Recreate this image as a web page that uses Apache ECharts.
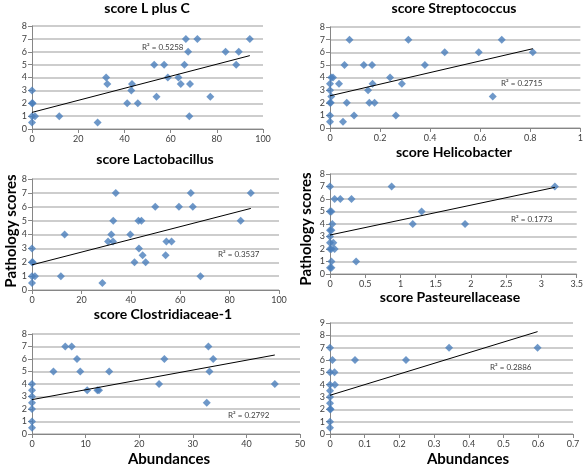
<!DOCTYPE html>
<html><head><meta charset="utf-8">
<script src="https://cdn.jsdelivr.net/npm/echarts@6/dist/echarts.min.js"></script>
<style>html,body{margin:0;padding:0;background:#fff}#c{width:586px;height:465px}</style>
</head><body><div id="c"></div>
<script>
// ---- data ----
const titles = ["score L plus C","score Streptococcus","score Lactobacillus","score Helicobacter","score Clostridiaceae-1","score Pasteurellacease"];
const r2Labels = ["R\u00b2 = 0.5258","R\u00b2 = 0.2715","R\u00b2 = 0.3537","R\u00b2 = 0.1773","R\u00b2 = 0.2792","R\u00b2 = 0.2886"];
const yAxisName = "Pathology scores";
const xAxisName = "Abundances";

const lpcX = [0,0,1.3,0.3,0,0,11.8,28.4,32.1,32.6,41.2,43,43.3,45.8,52.9,53.9,57.2,58.8,63.4,64.4,66,66.6,67.6,68.1,68.4,71.6,77.2,83.8,88.4,89.5,94.3];
const lpcY = [0.5,1,1,2,2,3,1,0.5,4,3.5,2,3,3.5,2,5,2.5,5,4,4,3.5,5,7,6,1,3.5,7,2.5,6,5,6,7];
const lpcTrendX = [0,94.3];
const lpcTrendY = [1.29,5.7];

const strepX = [0,0,0,0.003,0,0.005,0,0.005,0.012,0.036,0.052,0.058,0.067,0.078,0.096,0.135,0.152,0.157,0.168,0.170,0.178,0.24,0.263,0.287,0.313,0.379,0.458,0.594,0.650,0.686,0.810];
const strepY = [0.5,1,2,2,3,2.5,3.5,4,4,3.5,0.5,5,2,7,1,5,3,2,5,3.5,2,4,1,3.5,7,5,6,6,2.5,7,6];
const strepTrendX = [0,0.81];
const strepTrendY = [2.55,6.28];

const lactoX = [0,0,1.2,0,0.3,0,11.7,13.2,28.5,30.8,32.1,32.8,32.9,33.9,39.8,41.5,43.3,43.1,44.3,44.8,46.0,49.9,54.1,54.4,56.5,59.5,64.3,65.1,68.2,84.5,88.6];
const lactoY = [0.5,1,1,2,2,3,1,4,0.5,3.5,4,3.5,5,7,4,2,3,5,5,2.5,2,6,2.5,3.5,3.5,6,7,6,1,5,7];
const lactoTrendX = [0,88.6];
const lactoTrendY = [1.81,5.88];

const heliX = [0,0,0.02,0,0.02,0.02,0,0,0.02,0,0.047,0,0.02,0.066,0.033,0.066,0.146,0.305,0.371,0.874,1.174,1.30,1.916,3.19];
const heliY = [7,5,5,0.5,0.5,1,3,3.5,3.5,2.5,2.5,2,2,2,4,6,6,6,1,7,4,5,4,7];
const heliTrendX = [0,3.19];
const heliTrendY = [3.12,6.93];

const clostX = [0,0,0,0,0,0,0,4.0,6.2,7.4,8.4,9.0,10.3,12.2,12.5,14.4,23.7,24.7,32.6,32.9,33.1,33.8,45.3];
const clostY = [0.5,1,2,2.5,3,3.5,4,5,7,7,6,5,3.5,3.5,3.5,5,4,6,2.5,7,5,6,4];
const clostTrendX = [0,45.3];
const clostTrendY = [2.75,6.32];

const pastX = [0,0,0,0.002,0,0,0,0,0.014,0,0.013,0.007,0,0.072,0.219,0.343,0.598];
const pastY = [0.5,1,2,2,2.5,3,3.5,4,4,5,5,6,7,6,6,7,7];
const pastTrendX = [0,0.598];
const pastTrendY = [3.14,8.3];

const xMax = [100,1,100,3.5,50,0.7];
const xInterval = [20,0.2,20,0.5,10,0.1];
const yMax = [8,8,8,8,8,9];

// ---- layout ----
const grids = [
  {left:32, right:323, top:26, bottom:336},
  {left:330, right:3, top:27, bottom:337},
  {left:32, right:307, top:179, bottom:175},
  {left:330, right:7, top:174, bottom:191},
  {left:32, right:286, top:334, bottom:31},
  {left:330, right:13, top:323, bottom:31}
];
const titlePos = [[147,8],[454,8],[155,159],[454,152],[163,314],[450,297]];
const r2Pos = [[142,47],[501,83],[218,254],[511,219],[228,415],[490,367]];

const pointsX = [lpcX,strepX,lactoX,heliX,clostX,pastX];
const pointsY = [lpcY,strepY,lactoY,heliY,clostY,pastY];
const trendsX = [lpcTrendX,strepTrendX,lactoTrendX,heliTrendX,clostTrendX,pastTrendX];
const trendsY = [lpcTrendY,strepTrendY,lactoTrendY,heliTrendY,clostTrendY,pastTrendY];

const FONT = 'Lato, "Liberation Sans", sans-serif';
const xAxes = [], yAxes = [], series = [], graphics = [];
for (let i = 0; i < 6; i++) {
  xAxes.push({
    gridIndex:i, type:'value', min:0, max:xMax[i], interval:xInterval[i],
    axisLine:{show:true, onZero:false, lineStyle:{color:'#868686', width:1}},
    axisTick:{show:true, length:4, lineStyle:{color:'#868686'}},
    axisLabel:{fontSize:9, color:'#404040', fontFamily:FONT, margin:6, showMaxLabel:true},
    splitLine:{show:false}
  });
  yAxes.push({
    gridIndex:i, type:'value', min:0, max:yMax[i], interval:1,
    axisLine:{show:true, lineStyle:{color:'#868686', width:1}},
    axisTick:{show:true, length:4, lineStyle:{color:'#868686'}},
    axisLabel:{fontSize:9, color:'#404040', fontFamily:FONT, margin:5},
    splitLine:{show:true, lineStyle:{color:'#bdbdbd', width:1.5}}
  });
  series.push({
    type:'scatter', xAxisIndex:i, yAxisIndex:i, symbol:'diamond', symbolSize:[8,8],
    itemStyle:{color:'#4a7ebb'}, silent:true, z:3,
    data: pointsX[i].map((x,k)=>[x, pointsY[i][k]])
  });
  series.push({
    type:'line', xAxisIndex:i, yAxisIndex:i, showSymbol:false, symbol:'none', silent:true, z:4,
    lineStyle:{color:'#000', width:1},
    data: trendsX[i].map((x,k)=>[x, trendsY[i][k]])
  });
  graphics.push({type:'text', x:titlePos[i][0], y:titlePos[i][1], z:10,
    style:{text:titles[i], font:'bold 14px '+FONT, fill:'#000', textAlign:'center', textVerticalAlign:'middle'}});
  graphics.push({type:'text', x:r2Pos[i][0], y:r2Pos[i][1], z:10,
    style:{text:r2Labels[i], font:'8px '+FONT, fill:'#404040', textAlign:'left', textVerticalAlign:'middle'}});
}
graphics.push({type:'text', x:11, y:231, rotation:Math.PI/2, z:10,
  style:{text:yAxisName, font:'bold 15px '+FONT, fill:'#000', textAlign:'center', textVerticalAlign:'middle'}});
graphics.push({type:'text', x:306, y:229, rotation:Math.PI/2, z:10,
  style:{text:yAxisName, font:'bold 15px '+FONT, fill:'#000', textAlign:'center', textVerticalAlign:'middle'}});
graphics.push({type:'text', x:169, y:459, z:10,
  style:{text:xAxisName, font:'bold 15px '+FONT, fill:'#000', textAlign:'center', textVerticalAlign:'middle'}});
graphics.push({type:'text', x:468, y:459, z:10,
  style:{text:xAxisName, font:'bold 15px '+FONT, fill:'#000', textAlign:'center', textVerticalAlign:'middle'}});

const chart = echarts.init(document.getElementById('c'), null, {renderer:'canvas'});
chart.setOption({
  animation:false,
  backgroundColor:'#fff',
  grid: grids,
  xAxis: xAxes,
  yAxis: yAxes,
  series: series,
  graphic: graphics
});
</script></body></html>
